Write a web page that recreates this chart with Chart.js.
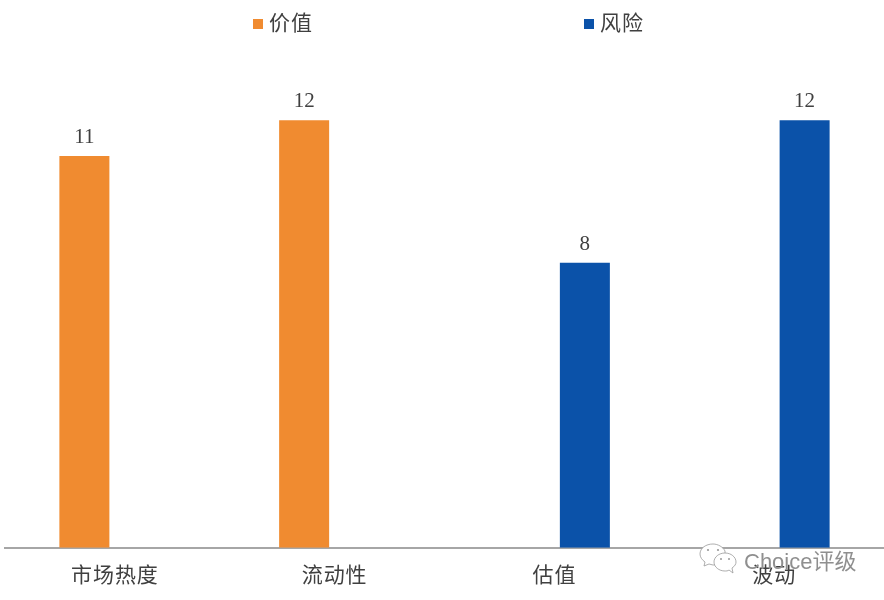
<!DOCTYPE html>
<html>
<head>
<meta charset="utf-8">
<title>价值与风险</title>
<script src="https://cdn.jsdelivr.net/npm/chart.js@4"></script>
<style>
  html, body { margin: 0; padding: 0; background: #fff; }
  #wrap { position: relative; width: 884px; height: 600px; overflow: hidden; }
  #mark { position: absolute; left: 744px; top: 543px; font: 22px "Liberation Sans", "Noto Sans CJK SC", sans-serif; color: #8f8f8f; white-space: nowrap; }
  #icon { position: absolute; left: 699px; top: 542px; }
</style>
</head>
<body>
<div id="wrap">
  <canvas id="chart" width="884" height="600"></canvas>
  <svg id="icon" width="40" height="36" viewBox="0 0 40 36">
    <path d="M14 2c-7 0-13 4-13 10 0 3 2 6 5 8l-1 4 5-2c1 0 3 1 4 1 4 0 9-2 12-6l0-8C24 5 19 2 14 2z" fill="#fff" stroke="#999" stroke-width="0.8"/>
    <path d="M26 11c-6 0-11 4-11 9s5 9 11 9c1 0 3 0 4-1l4 3-1-5c3-2 4-4 4-6 0-5-5-9-11-9z" fill="#fff" stroke="#999" stroke-width="0.8"/>
    <circle cx="9" cy="8" r="1.1" fill="#999"/><circle cx="19" cy="8" r="1.1" fill="#999"/>
    <circle cx="22" cy="17" r="1" fill="#999"/><circle cx="30" cy="17" r="1" fill="#999"/>
  </svg>
  <div id="mark">Choice评级</div>
</div>
<script>
const categories = ["市场热度", "流动性", "估值", "波动"];
const valueSeries = [11, 12, null, null];
const riskSeries = [null, null, 8, 12];

const textFont = '"Liberation Serif", "Noto Sans CJK SC", serif';
const textColor = "#404040";
const legendX = [253, 584]; // left edge of each legend entry

// numbers above the bars and the wide-set legend (the built-in one wraps at this spacing)
const barLabels = {
  id: "barLabels",
  beforeDraw(chart) {
    chart.ctx.letterSpacing = "1px";
  },
  afterDatasetsDraw(chart) {
    const ctx = chart.ctx;
    ctx.save();
    ctx.letterSpacing = "0px";
    ctx.font = "21px " + textFont;
    ctx.fillStyle = textColor;
    ctx.textAlign = "center";
    ctx.textBaseline = "bottom";
    chart.data.datasets.forEach((ds, i) => {
      chart.getDatasetMeta(i).data.forEach((bar, j) => {
        if (ds.data[j] != null) ctx.fillText(ds.data[j], bar.x, bar.y - 8);
      });
    });
    ctx.letterSpacing = "1px";
    ctx.textAlign = "left";
    ctx.textBaseline = "middle";
    chart.data.datasets.forEach((ds, i) => {
      ctx.fillStyle = ds.backgroundColor;
      ctx.fillRect(legendX[i], 19, 10, 10);
      ctx.fillStyle = textColor;
      ctx.fillText(ds.label, legendX[i] + 16, 24);
    });
    ctx.restore();
  },
};

new Chart(document.getElementById("chart"), {
  type: "bar",
  data: {
    labels: categories,
    datasets: [
      { label: "价值", data: valueSeries, backgroundColor: "#F08B30" },
      { label: "风险", data: riskSeries, backgroundColor: "#0B52A9" },
    ],
  },
  options: {
    responsive: false,
    animation: false,
    layout: { padding: { left: 5, right: 0, top: 49, bottom: -5 } },
    datasets: { bar: { categoryPercentage: 0.555, barPercentage: 0.82 } },
    scales: {
      x: {
        grid: { display: false, drawTicks: false },
        border: { color: "#A6A6A6", width: 2 },
        ticks: { color: textColor, padding: 16, font: { size: 21, family: textFont } },
      },
      y: { display: false, min: 0, max: 14 },
    },
    plugins: {
      tooltip: { enabled: false },
      legend: { display: false },
    },
  },
  plugins: [barLabels],
});
</script>
</body>
</html>
